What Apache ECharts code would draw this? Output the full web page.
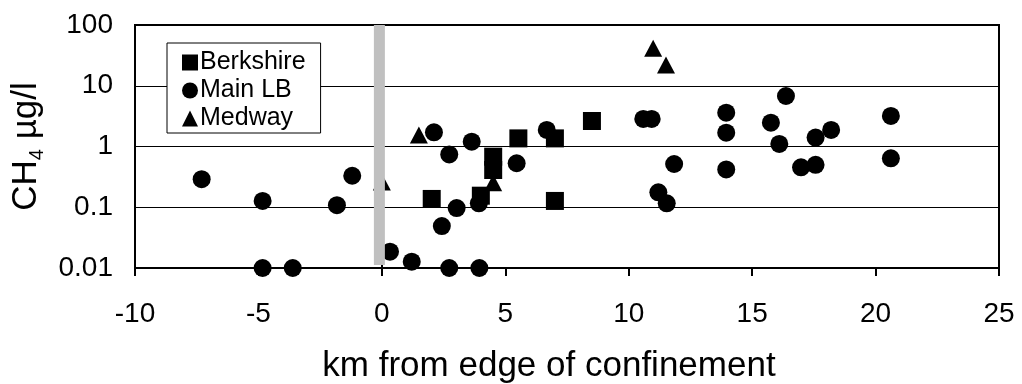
<!DOCTYPE html>
<html>
<head>
<meta charset="utf-8">
<script src="https://cdn.jsdelivr.net/npm/echarts@6/dist/echarts.min.js"></script>
<style>html,body{margin:0;padding:0;background:#fff}#c{width:1022px;height:384px}</style>
</head>
<body>
<div id="c"></div>
<script>
var seriesNames = ['Berkshire', 'Main LB', 'Medway'];
var berkshire = [[2.02, 0.137], [4.01, 0.155], [4.51, 0.68], [4.51, 0.41], [5.53, 1.36], [7.01, 1.36], [7.01, 0.127], [8.51, 2.63]];
var mainLB = [[-7.3, 0.29], [-4.83, 0.127], [-4.83, 0.01], [-3.61, 0.01], [-1.82, 0.108], [-1.2, 0.33],
  [0.33, 0.0186], [1.21, 0.0127], [2.11, 1.71], [2.43, 0.049], [2.73, 0.74], [2.73, 0.01], [3.03, 0.097],
  [3.64, 1.2], [3.93, 0.116], [3.95, 0.01], [5.46, 0.53], [6.68, 1.87], [10.59, 2.84], [10.93, 2.84],
  [11.2, 0.176], [11.54, 0.116], [11.84, 0.515], [13.95, 3.6], [13.95, 1.69], [13.95, 0.42],
  [15.76, 2.47], [16.1, 1.1], [16.37, 6.78], [16.98, 0.454], [17.57, 0.5], [17.57, 1.4], [18.2, 1.87],
  [20.62, 3.18], [20.62, 0.64]];
var medway = [[0.0, 0.26], [1.5, 1.55], [4.51, 0.254], [10.99, 41.3], [11.51, 22]];
var confinementEdge = [[-0.1, 0.0112], [-0.1, 100]];
var xTicks = {min: -10, max: 25, interval: 5};
var yTicks = {min: 0.01, max: 100};

var font = 'Liberation Sans, Arial, sans-serif';
var chart = echarts.init(document.getElementById('c'), null, {renderer: 'canvas'});
chart.setOption({
  animation: false,
  backgroundColor: '#fff',
  textStyle: {fontFamily: font, color: '#000'},
  grid: {left: 135, right: 23, top: 25, bottom: 116, show: true, borderColor: '#000', borderWidth: 2,
    containLabel: false, outerBoundsMode: 'none'},
  legend: {
    orient: 'vertical', left: 167, top: 43,
    data: [{name: seriesNames[0], icon: 'rect'}, {name: seriesNames[1], icon: 'circle'}, {name: seriesNames[2], icon: 'triangle'}],
    itemWidth: 16, itemHeight: 16, itemGap: 3, padding: [7, 15, 2, 15],
    backgroundColor: '#fff', borderColor: '#000', borderWidth: 1,
    textStyle: {fontFamily: font, fontSize: 25, color: '#000', padding: [0, 0, 0, -3]},
    selectedMode: false
  },
  xAxis: {
    type: 'value', min: xTicks.min, max: xTicks.max, interval: xTicks.interval,
    name: 'km from edge of confinement', nameLocation: 'middle', nameGap: 81,
    nameTextStyle: {fontFamily: font, fontSize: 35, color: '#000', padding: [0, 36, 0, 0]},
    axisLine: {onZero: false, lineStyle: {color: '#000', width: 2}},
    axisTick: {show: true, inside: false, length: 8, lineStyle: {color: '#000', width: 2}},
    axisLabel: {fontFamily: font, fontSize: 28, color: '#000', margin: 32},
    splitLine: {show: false}
  },
  yAxis: {
    type: 'log', logBase: 10, min: yTicks.min, max: yTicks.max,
    name: 'CH{sub|4} µg/l', nameLocation: 'middle', nameGap: 82, nameRotate: 90,
    nameTextStyle: {fontFamily: font, fontSize: 35, color: '#000', lineHeight: 42,
      rich: {sub: {fontFamily: font, fontSize: 20, color: '#000', verticalAlign: 'bottom', lineHeight: 19}}},
    axisLine: {show: true, lineStyle: {color: '#000', width: 2}},
    axisTick: {show: true, inside: false, length: 8, lineStyle: {color: '#000', width: 1}},
    axisLabel: {fontFamily: font, fontSize: 28, color: '#000', margin: 22,
      formatter: function (v) { return String(+v.toPrecision(6)); }},
    splitLine: {show: true, lineStyle: {color: '#000', width: 1}},
    minorTick: {show: false}
  },
  series: [
    {name: seriesNames[0], type: 'scatter', symbol: 'rect', symbolSize: 18, data: berkshire, itemStyle: {color: '#000', opacity: 1}, z: 3},
    {name: seriesNames[1], type: 'scatter', symbol: 'circle', symbolSize: 18, data: mainLB, itemStyle: {color: '#000', opacity: 1}, z: 3},
    {name: seriesNames[2], type: 'scatter', symbol: 'triangle', symbolSize: [18, 17], data: medway, itemStyle: {color: '#000', opacity: 1}, z: 3},
    {name: 'edge', type: 'line', data: confinementEdge, symbol: 'none', silent: true, z: 6,
      lineStyle: {color: '#c0c0c0', width: 11, cap: 'butt'}}
  ]
});
</script>
</body>
</html>
